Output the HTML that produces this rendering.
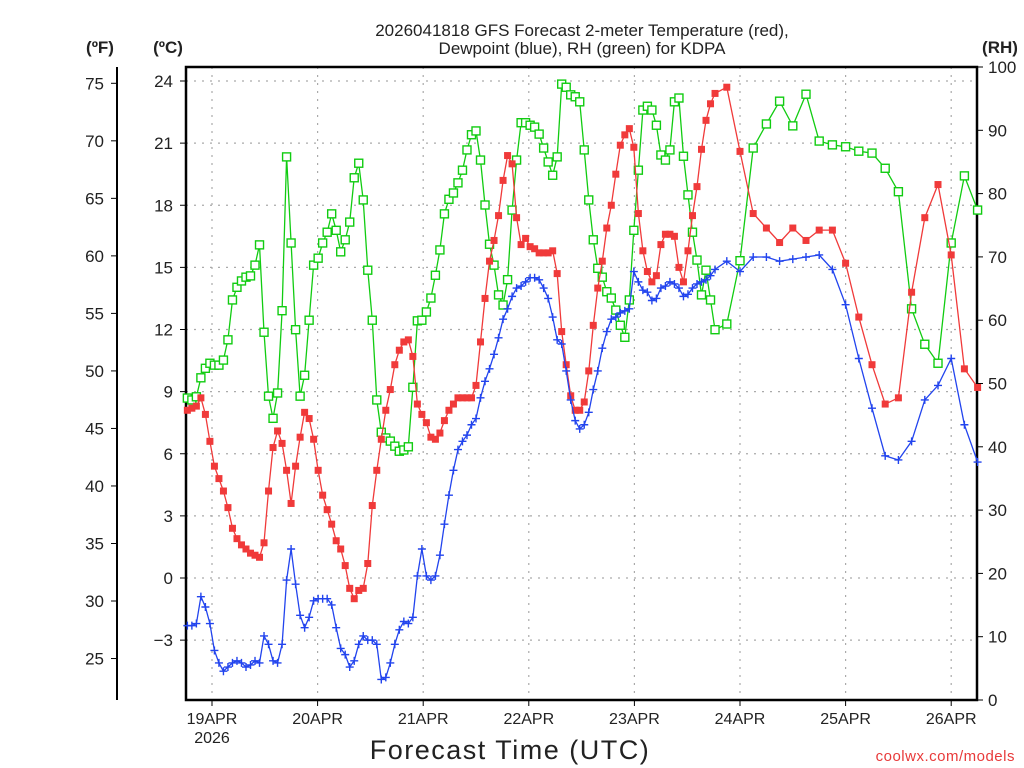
<!DOCTYPE html>
<html><head><meta charset="utf-8"><style>
html,body{margin:0;padding:0;background:#fff}
svg{display:block}
text{font-family:"Liberation Sans",sans-serif;fill:#222}
</style></head><body>
<svg id="chart" width="1024" height="768" viewBox="0 0 1024 768">
<text x="582" y="36" font-size="17" text-anchor="middle">2026041818 GFS Forecast 2-meter Temperature (red),</text>
<text x="582" y="54" font-size="17" text-anchor="middle">Dewpoint (blue), RH (green) for KDPA</text>
<text x="100" y="53" font-size="17" font-weight="bold" text-anchor="middle">(ºF)</text>
<text x="168" y="53" font-size="17" font-weight="bold" text-anchor="middle">(ºC)</text>
<text x="1000" y="53" font-size="17" font-weight="bold" text-anchor="middle">(RH)</text>
<text x="510" y="759" font-size="27" text-anchor="middle" letter-spacing="1.5">Forecast Time (UTC)</text>
<text x="1015" y="761" font-size="15" text-anchor="end" style="fill:#e83a3a" letter-spacing="0.5">coolwx.com/models</text>
<g id="grid"></g><g id="axes"></g><g id="series"></g>
</svg>
<script>
// Data: times in hours relative to 19APR 00Z
const hourlyStart = -5.6;
const hourlyStep = 1.025;
const threeHourTimes = [117,120,123,126,129,132,135,138,141,144,147,150,153,156,159,162,165,168,171,174];
const tempHourly = [8.1,8.2,8.3,8.7,7.9,6.6,5.4,4.8,4.2,3.4,2.4,1.9,1.6,1.4,1.2,1.1,1.0,1.7,4.2,6.3,7.1,6.5,5.2,3.6,5.4,6.8,8.0,7.7,6.7,5.2,4.0,3.3,2.6,1.8,1.4,0.6,-0.5,-1.0,-0.6,-0.5,0.7,3.5,5.2,6.7,8.1,9.1,10.3,11.0,11.4,11.5,10.7,8.4,7.9,7.5,6.8,6.7,7.0,7.6,8.1,8.4,8.7,8.7,8.7,8.7,9.3,11.4,13.5,15.3,16.3,17.5,19.2,20.4,20.0,17.4,16.1,16.4,16.0,15.9,15.7,15.7,15.7,15.8,14.7,11.9,10.3,8.8,8.1,8.1,8.5,10.0,12.2,14.0,15.3,16.9,18.0,19.5,20.9,21.4,21.7,20.8,17.6,15.8,14.8,14.3,14.6,16.1,16.6,16.6,16.5,15.0,14.3,15.8,17.5,18.9,20.7,22.1,22.9,23.4];
const temp3h = [23.7,20.6,17.6,16.9,16.2,16.9,16.3,16.8,16.8,15.2,12.6,10.3,8.4,8.7,13.8,17.4,19.0,15.6,10.1,9.2];
const dewHourly = [-2.3,-2.3,-2.2,-0.9,-1.4,-2.2,-3.5,-4.1,-4.5,-4.3,-4.1,-4.0,-4.1,-4.3,-4.2,-4.0,-4.1,-2.8,-3.2,-4.0,-4.1,-3.2,-0.1,1.4,-0.3,-1.8,-2.4,-1.9,-1.1,-1.0,-1.0,-1.0,-1.3,-2.4,-3.4,-3.7,-4.3,-4.0,-3.2,-2.8,-3.0,-3.0,-3.2,-4.9,-4.8,-4.1,-3.2,-2.5,-2.1,-2.2,-1.9,0.1,1.4,0.1,-0.1,0.1,1.1,2.6,4.0,5.2,6.2,6.6,6.9,7.4,7.7,8.7,9.5,10.1,10.8,11.6,12.5,13.0,13.6,14.0,14.1,14.3,14.5,14.5,14.4,14.0,13.5,12.6,11.5,11.3,10.0,8.6,7.6,7.2,7.4,8.0,9.1,10.0,11.1,11.9,12.5,12.6,12.8,12.9,13.0,14.8,14.3,13.9,13.8,13.4,13.5,14.0,14.1,14.3,14.2,14.0,13.6,13.7,14.0,14.2,14.3,14.4,14.6,14.9];
const dew3h = [15.3,14.8,15.5,15.5,15.3,15.4,15.5,15.6,14.9,13.2,10.6,8.2,5.9,5.7,6.6,8.6,9.3,10.6,7.4,5.6];
const rhHourly = [47.7,47.4,47.9,50.9,52.4,53.2,52.9,52.9,53.7,56.9,63.2,65.2,66.2,66.8,67.0,68.7,71.9,58.1,48.0,44.5,48.5,61.5,85.8,72.2,58.5,48.0,51.3,60.0,68.7,69.8,72.2,73.9,76.8,74.2,70.8,72.7,75.5,82.5,84.8,79.0,67.9,60.0,47.4,42.3,41.4,40.9,40.1,39.3,39.5,40.0,49.4,59.9,60.0,61.3,63.5,67.1,71.1,76.8,79.1,80.1,81.7,83.7,86.9,89.3,89.9,85.3,78.2,72.0,68.7,64.0,62.4,66.4,77.4,85.3,91.2,91.2,90.8,90.5,89.4,87.2,85.0,82.9,85.8,97.3,96.8,95.6,95.3,94.5,86.9,79.0,72.7,68.2,66.8,64.5,63.5,61.6,59.2,57.3,63.2,74.2,83.7,93.2,93.8,93.2,90.8,86.1,85.3,86.9,94.5,95.1,85.9,79.8,73.9,69.5,64.0,67.9,63.2,58.5];
const rh3h = [59.4,69.4,87.2,91.0,94.6,90.7,95.7,88.3,87.7,87.4,86.7,86.4,84.0,80.3,61.8,56.2,53.2,72.2,82.8,77.4];
const fTicks = [25,30,35,40,45,50,55,60,65,70,75];
const cTicks = [-3,0,3,6,9,12,15,18,21,24];
const rhTicks = [0,10,20,30,40,50,60,70,80,90,100];
const dayTicks = [0,24,48,72,96,120,144,168];
const dayLabels = ["19APR","20APR","21APR","22APR","23APR","24APR","25APR","26APR"];

const NS="http://www.w3.org/2000/svg";
const L=186,R=977,T=67,B=700;
const xS=h=>212+h*(105.6/24);
const cS=c=>578-c*(497/24);
const fS=f=>cS((f-32)/1.8);
const rS=r=>B-r*(B-T)/100;
function mk(tag,attrs,parent){const e=document.createElementNS(NS,tag);for(const k in attrs)e.setAttribute(k,attrs[k]);parent.appendChild(e);return e;}
const grid=document.getElementById('grid'),axes=document.getElementById('axes'),ser=document.getElementById('series');

cTicks.forEach(c=>{const y=cS(c);
 let g=mk('line',{x1:L,x2:R,y1:y,y2:y,stroke:'#aaa','stroke-dasharray':'2,6','stroke-width':1.2},grid);
 
 
 let t=mk('line',{x1:L-6,x2:L,y1:y,y2:y,stroke:'#000'},axes);
 
 
 let tx=mk('text',{x:173,y:y+6,'font-size':17,'text-anchor':'end'},axes);tx.textContent=c<0?'\u2212'+(-c):c;
 
 
});
dayTicks.forEach((d,i)=>{const x=xS(d);
 let g=mk('line',{x1:x,x2:x,y1:T,y2:B,stroke:'#aaa','stroke-dasharray':'2,6','stroke-width':1.2},grid);
 
 
 let t=mk('line',{x1:x,x2:x,y1:B,y2:B+6,stroke:'#000'},axes);
 
 
 let tx=mk('text',{x:x,y:724,'font-size':16,'text-anchor':'middle'},axes);tx.textContent=dayLabels[i];
 
 
});
let yr=mk('text',{x:xS(0),y:743,'font-size':16,'text-anchor':'middle'},axes);yr.textContent='2026';


fTicks.forEach(f=>{const y=fS(f);
 let t=mk('line',{x1:111,x2:117,y1:y,y2:y,stroke:'#000'},axes);
 
 
 let tx=mk('text',{x:104,y:y+6,'font-size':17,'text-anchor':'end'},axes);tx.textContent=f;
 
 
});
rhTicks.forEach(r=>{const y=rS(r);
 let t=mk('line',{x1:R,x2:R+6,y1:y,y2:y,stroke:'#000'},axes);
 
 
 let tx=mk('text',{x:988,y:y+6,'font-size':17},axes);tx.textContent=r;
 
 
});
let fa=mk('line',{x1:117,x2:117,y1:T,y2:B,stroke:'#000','stroke-width':2},axes);


let fr=mk('rect',{x:L,y:T,width:R-L,height:B-T,fill:'none',stroke:'#000','stroke-width':2.5},axes);



function build(hourly,three,yf){const pts=[];hourly.forEach((v,i)=>pts.push([xS(hourlyStart+i*hourlyStep),yf(v)]));three.forEach((v,i)=>pts.push([xS(threeHourTimes[i]),yf(v)]));return pts;}
function drawSeries(pts,color,kind,name){
 const g=mk('g',{},ser);
 
 
 let p=mk('polyline',{points:pts.map(p=>p[0].toFixed(1)+','+p[1].toFixed(1)).join(' '),fill:'none',stroke:color,'stroke-width':1.3},g);
 
 
 pts.forEach(([x,y])=>{let m;
  if(kind==='fill'){m=mk('rect',{x:x-3.5,y:y-3.5,width:7,height:7,fill:color},g);}
  else if(kind==='open'){m=mk('rect',{x:x-4,y:y-4,width:8,height:8,fill:'#fff',stroke:color,'stroke-width':1.4},g);}
  else {m=mk('path',{d:`M${x-4},${y}H${x+4}M${x},${y-4}V${y+4}`,stroke:color,'stroke-width':1.4},g);}
  
  
 });
}
drawSeries(build(rhHourly,rh3h,rS),'#11cc11','open','rh-series');
drawSeries(build(tempHourly,temp3h,cS),'#f03a3a','fill','temperature-series');
drawSeries(build(dewHourly,dew3h,cS),'#2244ee','plus','dewpoint-series');
</script>
</body></html>
